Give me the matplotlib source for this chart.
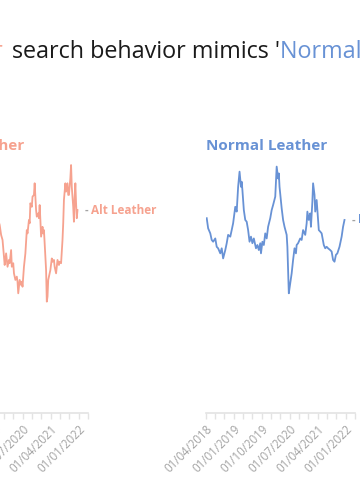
import matplotlib.pyplot as plt
import matplotlib.dates as mdates
from matplotlib.ticker import FixedLocator
import pandas as pd

# Colours
SALMON = '#F6A28F'
BLUE = '#6892D5'
GREY = '#A3A3A3'
SPINE = '#E3E3E3'
DARK = '#1A1A1A'

# Weekly search interest, week index counted from 01/01/2018
alt_weeks = [81, 85, 87, 89, 91, 92, 94, 96, 98, 99, 101, 102, 104, 105, 107,
             109, 110, 111, 113, 115, 116, 117, 119, 121, 123, 124, 126, 127,
             128, 130, 131, 133, 134, 135, 136, 137, 139, 140, 141, 142, 143,
             145, 146, 147, 148, 150, 151, 152, 153, 154, 156, 158, 159, 161,
             162, 164, 166, 168, 169, 171, 173, 174, 175, 177, 178, 180, 181,
             182, 184, 185, 186, 188, 189, 190, 191, 192, 193, 194]
alt_values = [78.3, 74.3, 70.4, 68.4, 61.8, 58.5, 63.1, 57.8, 60.5, 59.2, 64.4,
              57.8, 59.2, 55.2, 52.6, 53.9, 51.9, 47.3, 52.6, 50.6, 51.9, 49.9,
              57.8, 63.1, 72.3, 71.0, 76.3, 75.0, 82.9, 81.5, 85.5, 86.2, 90.8,
              85.5, 80.2, 77.6, 78.9, 77.0, 82.2, 76.3, 69.7, 73.6, 71.0, 72.3,
              67.1, 56.5, 44.0, 46.0, 52.6, 53.9, 56.5, 61.1, 59.8, 60.5, 57.8,
              55.2, 60.5, 58.5, 59.8, 59.2, 68.4, 75.0, 84.2, 90.8, 87.5, 90.8,
              86.2, 86.2, 92.8, 98.0, 89.4, 81.5, 75.6, 84.9, 90.8, 82.9, 77.0,
              80.2]

normal_weeks = [1, 3, 6, 8, 10, 13, 15, 17, 20, 22, 24, 27, 29, 31, 34, 36, 38,
                41, 43, 45, 47, 49, 50, 51, 53, 55, 57, 59, 61, 63, 65, 67, 70,
                72, 74, 76, 77, 79, 81, 83, 85, 87, 90, 92, 94, 97, 98, 99, 101,
                102, 103, 106, 108, 110, 113, 114, 115, 116, 118, 120, 122, 124,
                126, 127, 129, 132, 134, 136, 139, 141, 142, 144, 146, 147, 149,
                150, 152, 153, 155, 157, 158, 160, 162, 165, 167, 169, 171, 174,
                176, 178, 180, 182, 184, 187, 190, 192, 194]
normal_values = [77.0, 73.0, 71.0, 68.4, 67.7, 69.0, 65.7, 65.1, 63.1, 65.1,
                 61.1, 64.4, 67.1, 70.4, 69.7, 72.3, 75.0, 81.5, 79.6, 89.4,
                 95.4, 89.4, 91.4, 88.1, 80.2, 76.3, 75.6, 72.3, 67.7, 69.7,
                 67.1, 69.0, 65.1, 66.4, 64.4, 67.1, 63.1, 67.7, 66.4, 71.0,
                 69.0, 73.6, 77.0, 80.2, 82.2, 85.5, 91.4, 97.4, 92.7, 94.7,
                 89.4, 80.9, 76.3, 73.6, 70.4, 65.7, 56.5, 47.3, 51.3, 55.2,
                 60.5, 65.1, 63.1, 66.4, 67.1, 69.0, 68.4, 72.3, 70.4, 75.0,
                 79.6, 76.3, 78.9, 73.6, 83.5, 90.8, 86.2, 79.6, 84.2, 76.3,
                 72.3, 71.7, 71.0, 66.4, 65.1, 65.7, 65.1, 64.4, 63.8, 60.5,
                 59.8, 62.5, 63.1, 65.7, 69.7, 73.6, 76.3]

label_dates = ['2018-04-01', '2019-01-01', '2019-10-01',
               '2020-07-01', '2021-04-01', '2022-01-01']

START = pd.Timestamp('2018-01-01')


def to_dates(weeks):
    return START + pd.to_timedelta([w * 7 for w in weeks], unit='D')


plt.rcParams['font.family'] = ['Open Sans', 'DejaVu Sans']

W, H = 360, 500
fig = plt.figure(figsize=(W / 100, H / 100), dpi=100)
fig.patch.set_facecolor('white')

AX_TOP, AX_BOTTOM = 160, 413


def add_panel(x0, x1):
    ax = fig.add_axes([x0 / W, (H - AX_BOTTOM) / H, (x1 - x0) / W,
                       (AX_BOTTOM - AX_TOP) / H])
    ax.set_ylim(0, 100)
    ax.set_xlim(pd.Timestamp('2018-01-01'), pd.Timestamp('2022-01-01'))
    for side in ['left', 'right', 'top']:
        ax.spines[side].set_visible(False)
    ax.spines['bottom'].set_color(SPINE)
    ax.spines['bottom'].set_linewidth(1.2)
    ax.set_yticks([])
    ax.xaxis.set_major_locator(FixedLocator(
        mdates.date2num(pd.to_datetime(label_dates))))
    ax.xaxis.set_major_formatter(mdates.DateFormatter('%d/%m/%Y'))
    ax.xaxis.set_minor_locator(mdates.MonthLocator(bymonth=[1, 4, 7, 10]))
    ax.tick_params(axis='x', which='both', length=4, width=1, color=SPINE,
                   labelcolor=GREY, labelsize=8.3, pad=3, labelrotation=45)
    ax.patch.set_alpha(0)
    return ax


def end_label(ax, dates, values, text, color):
    ax.annotate('-', xy=(dates[-1], values[-1]), xytext=(5, 0),
                textcoords='offset points', color=GREY, fontsize=8,
                fontweight='bold', va='center', ha='left',
                annotation_clip=False)
    ax.annotate(text, xy=(dates[-1], values[-1]), xytext=(10, 0),
                textcoords='offset points', color=color, fontsize=8.5,
                fontweight='bold', va='center', ha='left',
                annotation_clip=False)


# Left panel: Alt Leather (mostly off to the left)
ax1 = add_panel(-61, 88)
alt_dates = to_dates(alt_weeks)
ax1.plot(alt_dates, alt_values, color=SALMON, lw=1.3)
end_label(ax1, alt_dates, alt_values, 'Alt Leather', SALMON)
fig.text(-61 / W, 1 - 146 / H, 'Alt Leather', color=SALMON, fontsize=11,
         fontweight='bold', va='center', ha='left')

# Right panel: Normal Leather
ax2 = add_panel(206, 355)
normal_dates = to_dates(normal_weeks)
ax2.plot(normal_dates, normal_values, color=BLUE, lw=1.3)
end_label(ax2, normal_dates, normal_values, 'Normal Leather', BLUE)
fig.text(206 / W, 1 - 146 / H, 'Normal Leather', color=BLUE, fontsize=11,
         fontweight='bold', va='center', ha='left')

fig.canvas.draw()
for ax in (ax1, ax2):
    for lab in ax.get_xticklabels():
        lab.set_ha('right')

# Title built from coloured pieces; the black middle part spans 13..283 px
renderer = fig.canvas.get_renderer()
ty = 1 - 58 / H
mid = fig.text(12 / W, ty, "search behavior mimics '", color=DARK,
               fontsize=14, va='baseline', ha='left')
w14 = mid.get_window_extent(renderer).width
title_size = 14 * 271 / w14
mid.set_fontsize(title_size)
bb = mid.get_window_extent(renderer)
fig.text(3 / W, ty, "Alt Leather", color=SALMON, fontsize=title_size,
         va='baseline', ha='right')
fig.text(bb.x1 / W, ty, "Normal Leather'", color=BLUE, fontsize=title_size,
         va='baseline', ha='left')

fig.savefig('out.png', dpi=100, facecolor='white')
